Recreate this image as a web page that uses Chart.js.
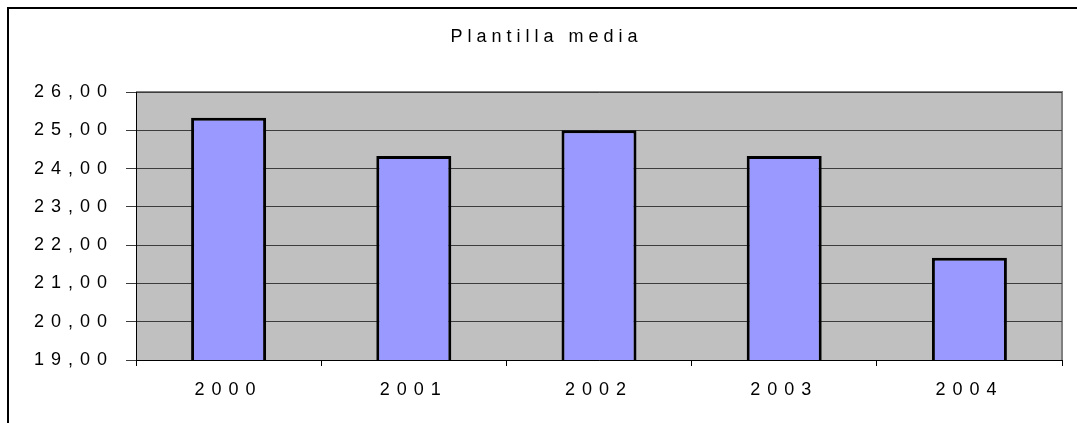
<!DOCTYPE html>
<html>
<head>
<meta charset="utf-8">
<script src="https://cdn.jsdelivr.net/npm/chart.js@4.4.0/dist/chart.umd.min.js"></script>
<style>
  body { margin: 0; background: #fff; }
  #wrap { width: 1077px; height: 423px; }
</style>
</head>
<body>
<div id="wrap"><canvas id="c" width="1077" height="423"></canvas></div>
<script>
        // Chart data
        const years = ['2000', '2001', '2002', '2003', '2004'];
        const plantilla = [25.33, 24.33, 25.00, 24.33, 21.67];
        const chartTitle = 'Plantilla media';
        const yMin = 19, yMax = 26, yStep = 1;

        const fontFamily = '"Liberation Sans", Arial, sans-serif';
        const tickSpacing = '7px';

        // frame, gray plot background and title drawn around the chart
        const decor = {
            id: 'decor',
            beforeUpdate(chart) { chart.ctx.letterSpacing = tickSpacing; },
            beforeDraw(chart) {
                const ctx = chart.ctx;
                const a = chart.chartArea;
                ctx.save();
                ctx.fillStyle = '#fff';
                ctx.fillRect(0, 0, chart.width, chart.height);
                ctx.strokeStyle = '#000';
                ctx.lineWidth = 2;
                ctx.beginPath();
                ctx.moveTo(8, chart.height);
                ctx.lineTo(8, 8);
                ctx.lineTo(chart.width, 8);
                ctx.stroke();
                ctx.fillStyle = '#C0C0C0';
                ctx.fillRect(a.left, a.top, a.right - a.left, a.bottom - a.top);
                ctx.strokeStyle = '#808080';
                ctx.lineWidth = 2;
                ctx.beginPath();
                ctx.moveTo(a.left, a.top);
                ctx.lineTo(a.right, a.top);
                ctx.lineTo(a.right, a.bottom);
                ctx.stroke();
                ctx.restore();
                ctx.letterSpacing = tickSpacing;
            },
            afterDraw(chart) {
                const ctx = chart.ctx;
                ctx.save();
                ctx.letterSpacing = '5px';
                ctx.font = '18px ' + fontFamily;
                ctx.fillStyle = '#000';
                ctx.textAlign = 'center';
                ctx.textBaseline = 'middle';
                ctx.fillText(chartTitle, chart.width / 2 + 8, 37);
                ctx.restore();
            }
        };

        new Chart(document.getElementById('c'), {
            type: 'bar',
            data: {
                labels: years,
                datasets: [{
                    label: chartTitle,
                    data: plantilla,
                    backgroundColor: '#9999FF',
                    borderColor: '#000',
                    borderWidth: 3,
                    categoryPercentage: 1,
                    barPercentage: 0.405
                }]
            },
            options: {
                responsive: false,
                animation: false,
                layout: { padding: { top: 92, right: 15, left: 0, bottom: 0 } },
                plugins: {
                    legend: { display: false },
                    tooltip: { enabled: false }
                },
                scales: {
                    x: {
                        grid: {
                            drawOnChartArea: false,
                            drawTicks: true,
                            tickLength: 6,
                            color: '#000',
                            offset: true
                        },
                        border: { color: '#000', width: 1 },
                        ticks: {
                            color: '#000',
                            padding: 13,
                            font: { family: fontFamily, size: 18 }
                        },
                        afterFit(scale) { scale.height = 63; }
                    },
                    y: {
                        min: yMin,
                        max: yMax,
                        grid: {
                            color: '#3c3c3c',
                            tickLength: 10,
                            drawTicks: true
                        },
                        border: { color: '#000', width: 1 },
                        ticks: {
                            stepSize: yStep,
                            color: '#000',
                            padding: 12,
                            font: { family: fontFamily, size: 18 },
                            callback: v => v.toFixed(2).replace('.', ',')
                        },
                        afterFit(scale) { scale.width = 136; }
                    }
                }
            },
            plugins: [decor]
        });
</script>
</body>
</html>
